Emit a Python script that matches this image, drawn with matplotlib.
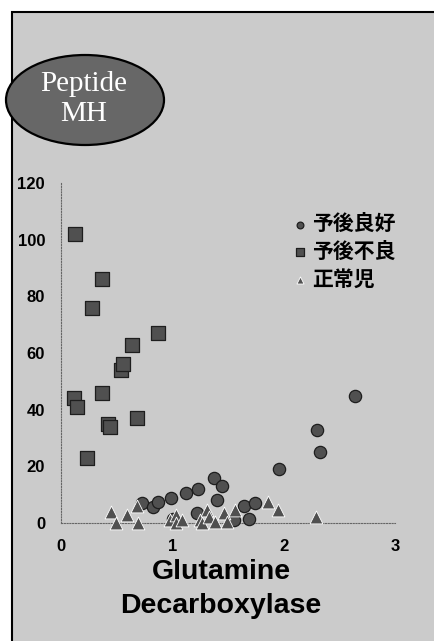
import matplotlib
matplotlib.use("Agg")
import matplotlib.pyplot as plt
from matplotlib.patches import Rectangle, Ellipse

# Peptide MH vs. glutamine decarboxylase, three patient groups
good_x = [0.73, 0.83, 0.87, 0.99, 1.01, 1.12, 1.22, 1.23, 1.37, 1.40, 1.45, 1.55,
          1.64, 1.69, 1.74, 1.96, 2.30, 2.33, 2.64]
good_y = [7, 5.5, 7.5, 9, 1.5, 10.5, 3.5, 12, 16, 8, 13, 1,
          6, 1.5, 7, 19, 33, 25, 45]

poor_x = [0.13, 0.12, 0.14, 0.23, 0.28, 0.37, 0.37, 0.42, 0.44, 0.54, 0.56,
          0.64, 0.68, 0.87]
poor_y = [102, 44, 41, 23, 76, 86, 46, 35, 34, 54, 56, 63, 37, 67]

normal_x = [0.45, 0.49, 0.59, 0.68, 0.69, 0.98, 1.03, 1.03, 1.09, 1.25, 1.27,
            1.31, 1.33, 1.38, 1.46, 1.49, 1.56, 1.86, 1.95, 2.29]
normal_y = [4, 0, 3, 6, 0, 1, 3, 0, 1, 1, 0, 4.5, 2, 0.5, 3.5, 0.5, 4.5,
            7.5, 4.5, 2]

group_labels = ["予後良好", "予後不良", "正常児"]
x_ticks = [0, 1, 2, 3]
y_ticks = [0, 20, 40, 60, 80, 100, 120]

W, H = 434, 641
fig = plt.figure(figsize=(W / 100, H / 100), dpi=100, facecolor="white")

# gray panel with black frame on the left and top
fig.patches.append(Rectangle((12 / W, -0.05), 1.2, 1 - 12 / H + 0.05,
                             transform=fig.transFigure, facecolor="#cbcbcb",
                             edgecolor="black", linewidth=1.5, zorder=-10))

ax = fig.add_axes([61 / W, 1 - 523 / H, 334 / W, 340 / H])
ax.set_zorder(1)
ax.set_facecolor("none")
ax.set_xlim(0, 3)
ax.set_ylim(0, 120)

fill = "#505050"
edge = "#1e1e1e"
ax.scatter(good_x, good_y, marker="o", s=78, c=fill, edgecolors=edge,
           linewidths=0.9, clip_on=False, zorder=3, label=group_labels[0])
ax.scatter(poor_x, poor_y, marker="s", s=95, c=fill, edgecolors=edge,
           linewidths=0.9, clip_on=False, zorder=3, label=group_labels[1])
ax.scatter(normal_x, normal_y, marker="^", s=85, c=fill, edgecolors="white",
           linewidths=0.6, clip_on=False, zorder=4, label=group_labels[2])

for side in ("top", "right"):
    ax.spines[side].set_visible(False)
for side in ("left", "bottom"):
    ax.spines[side].set_color("#666666")
    ax.spines[side].set_linewidth(0.8)
    ax.spines[side].set_linestyle((0, (1, 1.5)))

ax.set_xticks(x_ticks)
ax.set_yticks(y_ticks)
ax.set_xticklabels([str(v) for v in x_ticks], fontsize=12, fontweight="bold",
                   family="Liberation Sans")
ax.set_yticklabels([str(v) for v in y_ticks], fontsize=12, fontweight="bold",
                   family="Liberation Sans")
ax.tick_params(axis="both", length=0)
ax.tick_params(axis="y", pad=11.5)
ax.tick_params(axis="x", pad=11.5)

ax.set_xlabel("Glutamine\nDecarboxylase", fontsize=20.5, fontweight="bold",
              family="Liberation Sans", linespacing=1.38)
ax.xaxis.set_label_coords((221 - 61) / 334, -(589 - 523) / 340)
ax.xaxis.label.set_va("center")

leg = ax.legend(loc="upper left", bbox_to_anchor=(295 / W, 1 - 213 / H),
                bbox_transform=fig.transFigure, frameon=False,
                prop={"family": ["Noto Sans CJK JP", "DejaVu Sans"],
                      "size": 15, "weight": "bold"},
                markerscale=0.55, handlelength=0.5, handletextpad=0.3,
                labelspacing=0.33, borderpad=0, borderaxespad=0)

# title badge
fig.patches.append(Ellipse((85 / W, 1 - 100 / H), 158 / W, 90 / H,
                           transform=fig.transFigure, facecolor="#676767",
                           edgecolor="black", linewidth=1.6, zorder=5))
fig.text(84 / W, 1 - 84 / H, "Peptide", ha="center", va="center",
         color="white", fontsize=21, family="Liberation Serif", zorder=6)
fig.text(84 / W, 1 - 114 / H, "MH", ha="center", va="center",
         color="white", fontsize=21, family="Liberation Serif", zorder=6)

fig.savefig("out.png", dpi=100, facecolor=fig.get_facecolor())
